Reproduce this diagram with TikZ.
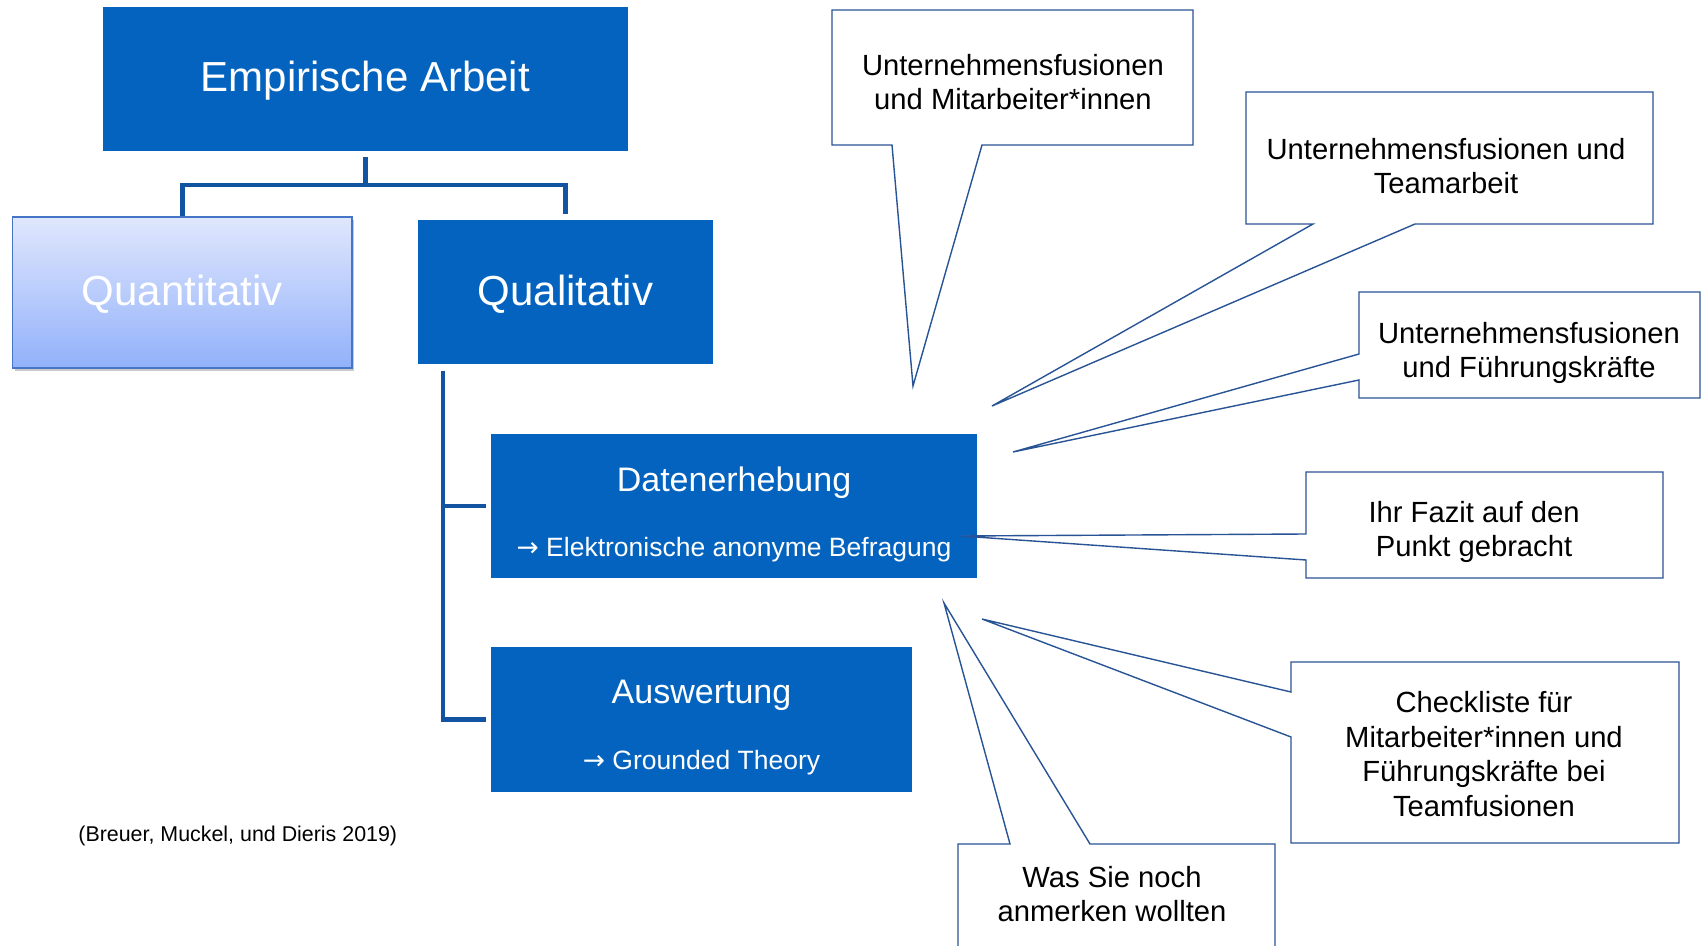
\documentclass[tikz,border=0pt]{standalone}
\usepackage{fontspec}
\setmainfont{Liberation Sans}
\newfontfamily\arrowfont{DejaVu Sans}
\usetikzlibrary{shadows}
\definecolor{boxblue}{RGB}{3,99,191}
\definecolor{treeblue}{RGB}{18,84,162}
\definecolor{calloutblue}{RGB}{40,84,150}
\definecolor{qtop}{RGB}{224,231,253}
\definecolor{qbot}{RGB}{146,177,250}
\definecolor{qborder}{RGB}{70,116,198}
\newcommand{\myarrow}{{\arrowfont →}}
\begin{document}
\begin{tikzpicture}[x=0.5pt,y=-0.5pt,
  bluebox/.style={fill=boxblue, draw=none, inner sep=0pt, text=white},
  tree/.style={draw=treeblue, line width=2.3pt},
  callout/.style={draw=calloutblue, line width=0.7pt, fill=white, line join=miter},
  ctext/.style={align=center, font=\fontsize{14.6}{17.4}\selectfont, inner sep=0pt, text=black},
  bigtext/.style={font=\fontsize{21}{25}\selectfont, text=white, inner sep=0pt},
  midtext/.style={font=\fontsize{17}{20}\selectfont, text=white, inner sep=0pt},
  subtext/.style={font=\fontsize{13.25}{16}\selectfont, text=white, inner sep=0pt}]
\useasboundingbox (0,0) rectangle (1702,946);
\clip (0,0) rectangle (1702,946);
\fill[white] (0,0) rectangle (1702,946);

% main boxes
\node[bluebox, minimum width=262.5pt, minimum height=72pt] (emp) at (365.5,79) {};
\node[bigtext] (empt) at (365.5,81) {Empirische Arbeit};

\node[draw=qborder, line width=0.8pt, top color=qtop, bottom color=qbot,
      minimum width=169.75pt, minimum height=75.5pt, inner sep=0pt,
      drop shadow={shadow xshift=1pt, shadow yshift=-1.5pt, opacity=0.35, fill=black!60}]
      (quant) at (182.25,292.5) {};
\node[bigtext] (quantt) at (182.25,294) {Quantitativ};

\node[bluebox, minimum width=147.5pt, minimum height=72pt] (qual) at (565.5,292) {};
\node[bigtext] (qualt) at (565.5,294) {Qualitativ};

\node[bluebox, minimum width=243pt, minimum height=72pt] (dat) at (734,506) {};
\node[midtext] (datt) at (734,483) {Datenerhebung};
\node[subtext] (dats) at (734,550) {\myarrow\ Elektronische anonyme Befragung};

\node[bluebox, minimum width=210.5pt, minimum height=72.5pt] (aus) at (701.5,719.5) {};
\node[midtext] (aust) at (701.5,695) {Auswertung};
\node[subtext] (auss) at (701.5,763) {\myarrow\ Grounded Theory};

% tree connectors
\coordinate (barY) at (0,185);
\coordinate (qv) at (443,371);
\draw[tree] ([yshift=-3pt]emp.south) -- (emp.south |- barY);
\draw[tree] (quant.north) -- (quant.north |- barY) -- (qual.north |- barY) -- ([yshift=3pt]qual.north);
\draw[tree] (qv) |- ([xshift=-2.5pt]aus.west);
\draw[tree] (qv |- dat.west) -- ([xshift=-2.5pt]dat.west);

% callouts
\draw[callout] (832,10) -- (1193,10) -- (1193,145) -- (982,145) -- (913,386) -- (892,145) -- (832,145) -- cycle;
\node[ctext] (c1) at (1013,82) {Unternehmensfusionen\\und Mitarbeiter*innen};

\draw[callout] (1246,92) -- (1653,92) -- (1653,224) -- (1415,224) -- (992,406) -- (1313,224) -- (1246,224) -- cycle;
\node[ctext] (c2) at (1446,166) {Unternehmensfusionen und\\Teamarbeit};

\draw[callout] (1359,292) -- (1700,292) -- (1700,398) -- (1359,398) -- (1359,380) -- (1013,452) -- (1359,354) -- cycle;
\node[ctext] (c3) at (1529,353) {Unternehmensfusionen\\und Führungskräfte};

\draw[callout] (1306,472) -- (1663,472) -- (1663,578) -- (1306,578) -- (1306,560) -- (961,536) -- (1306,534) -- cycle;
\node[ctext] (c4) at (1474,532) {Ihr Fazit auf den\\Punkt gebracht};

\draw[callout] (1291,662) -- (1679,662) -- (1679,843) -- (1291,843) -- (1291,737) -- (982,619) -- (1291,692) -- cycle;
\node[ctext] (c5) at (1484,754) {Checkliste für\\Mitarbeiter*innen und\\Führungskräfte bei\\Teamfusionen};

\draw[callout] (958,844) -- (1010,844) -- (944,603) -- (1090,844) -- (1275,844) -- (1275,970) -- (958,970) -- cycle;
\node[ctext] (c6) at (1112,894) {Was Sie noch\\anmerken wollten};

% citation
\node[anchor=west, inner sep=0pt, font=\fontsize{10.7}{13}\selectfont] (cite) at (78,836) {(Breuer, Muckel, und Dieris 2019)};
\end{tikzpicture}
\end{document}
